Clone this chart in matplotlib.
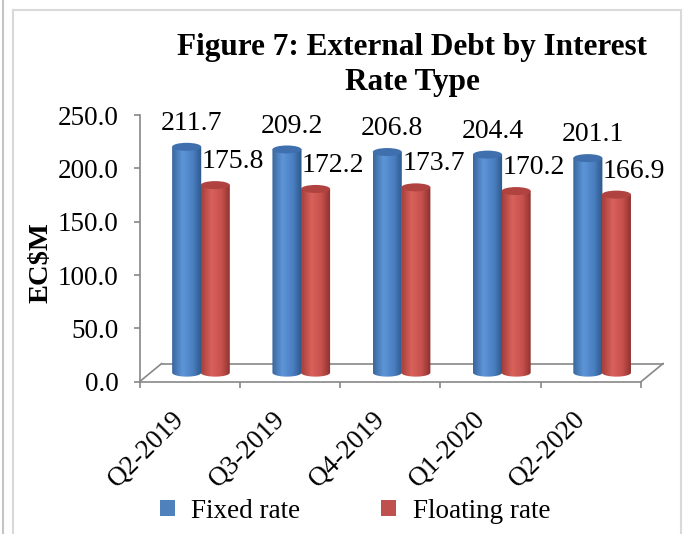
import matplotlib
matplotlib.use("Agg")
import matplotlib.pyplot as plt
import numpy as np
from matplotlib.colors import LinearSegmentedColormap
from matplotlib.patches import Ellipse, PathPatch, Patch
from matplotlib.path import Path
from matplotlib.lines import Line2D

# data
quarters = ["Q2-2019", "Q3-2019", "Q4-2019", "Q1-2020", "Q2-2020"]
fixed_rate = [211.7, 209.2, 206.8, 204.4, 201.1]
floating_rate = [175.8, 172.2, 173.7, 170.2, 166.9]

plt.rcParams['font.family'] = ['Liberation Serif', 'DejaVu Serif']

fig = plt.figure(figsize=(6.86, 5.34), dpi=100)
ax = fig.add_axes([0.2034, 0.2852, 0.731, 0.4994])

# 3d look: depth offsets in data units
depth_x, depth_y = 0.22, 17.0
mid_x, mid_y = depth_x / 2, depth_y / 2
bar_w = 0.29
ell_h = 7.5
grey = '#888888'

blue_cm = LinearSegmentedColormap.from_list(
    'b', [(0, '#3a679c'), (0.35, '#5d95d8'), (0.7, '#4a80c2'), (1, '#2d5788')])
red_cm = LinearSegmentedColormap.from_list(
    'r', [(0, '#a63f3b'), (0.35, '#d9615b'), (0.7, '#c5504c'), (1, '#8a2f2c')])


def cylinder(cx, value, cmap, top_color, z):
    x0, x1 = cx - bar_w / 2, cx + bar_w / 2
    y0, y1 = mid_y, mid_y + value
    th = np.linspace(np.pi, 2 * np.pi, 40)
    xs = np.concatenate([[x0], cx + bar_w / 2 * np.cos(th), [x1, x0]])
    ys = np.concatenate([[y1], y0 + ell_h / 2 * np.sin(th), [y1, y1]])
    body = PathPatch(Path(np.column_stack([xs, ys])), facecolor='none',
                     edgecolor='none', transform=ax.transData)
    ax.add_patch(body)
    grad = np.linspace(0, 1, 64).reshape(1, -1)
    im = ax.imshow(grad, cmap=cmap, aspect='auto', zorder=z,
                   extent=[x0, x1, y0 - ell_h / 2, y1], interpolation='bilinear')
    im.set_clip_path(body)
    ax.add_patch(Ellipse((cx, y1), bar_w, ell_h, facecolor=top_color,
                         edgecolor='none', zorder=z + 0.1))


x = np.arange(len(quarters))
for i in x:
    cylinder(i + mid_x - 0.14, fixed_rate[i], blue_cm, '#3f70ad', 3)
    cylinder(i + mid_x + 0.145, floating_rate[i], red_cm, '#b0423f', 4)
    ax.text(i + 0.02, fixed_rate[i] + 30.5, f"{fixed_rate[i]:.1f}",
            ha='center', va='center', fontsize=20, zorder=6)
    ax.text(i + 0.43, floating_rate[i] + 30.5, f"{floating_rate[i]:.1f}",
            ha='center', va='center', fontsize=20, zorder=6)

# floor outline
lo, hi = -0.5, len(quarters) - 0.5
ax.plot([lo + depth_x, hi + depth_x], [depth_y, depth_y], color=grey, lw=1.2,
        clip_on=False, zorder=1)
ax.plot([lo, lo + depth_x], [0, depth_y], color=grey, lw=1.2, clip_on=False, zorder=1)
ax.plot([hi, hi + depth_x], [0, depth_y], color=grey, lw=1.2, clip_on=False, zorder=1)

ax.set_xlim(lo, hi)
ax.set_ylim(0, 250)
ax.set_yticks(np.arange(0, 251, 50))
ax.set_yticklabels([f"{v:.1f}" for v in np.arange(0, 251, 50)], fontsize=19.5)
ax.set_xticks(np.arange(lo, hi + 0.01, 1))
ax.set_xticklabels([])
ax.set_xticks(x, minor=True)
ax.set_xticklabels(quarters, minor=True, rotation=45, ha='right', va='top',
                   fontsize=19.5)
ax.tick_params(axis='x', which='minor', length=0, pad=18)
ax.tick_params(axis='x', which='major', length=4.5, color=grey, width=1.2)
ax.tick_params(axis='y', length=4, color=grey, width=1.2, pad=11)
for s in ['top', 'right']:
    ax.spines[s].set_visible(False)
for s in ['left', 'bottom']:
    ax.spines[s].set_color(grey)
    ax.spines[s].set_linewidth(1.2)
ax.patch.set_alpha(0)

fig.text(0.06, 0.5075, "EC$M", rotation=90, ha='center', va='center',
         fontsize=20.5, fontweight='bold')
fig.text(0.601, 0.938, "Figure 7: External Debt by Interest\nRate Type",
         ha='center', va='top', fontsize=22.5, fontweight='bold', linespacing=1.28)

handles = [Patch(facecolor='#4f81bd', label='Fixed rate'),
           Patch(facecolor='#c0504d', label='Floating rate')]
fig.legend(handles=handles, loc='center', bbox_to_anchor=(0.5175, 0.043), ncol=2,
           frameon=False, fontsize=19.5, handlelength=0.55, handleheight=0.55,
           handletextpad=0.6, columnspacing=3.0)

# chart frame
W, H = 686, 534
def fline(xs, ys, c):
    fig.add_artist(Line2D(np.array(xs) / W, 1 - np.array(ys) / H, color=c, lw=1.5))
fline([3, 3], [0, H], '#c4c4c4')
fline([13, 13], [10, H], '#d9d9d9')
fline([13, 681], [10, 10], '#d9d9d9')
fline([681, 681], [10, H], '#d9d9d9')

fig.savefig("out.png", dpi=100)
